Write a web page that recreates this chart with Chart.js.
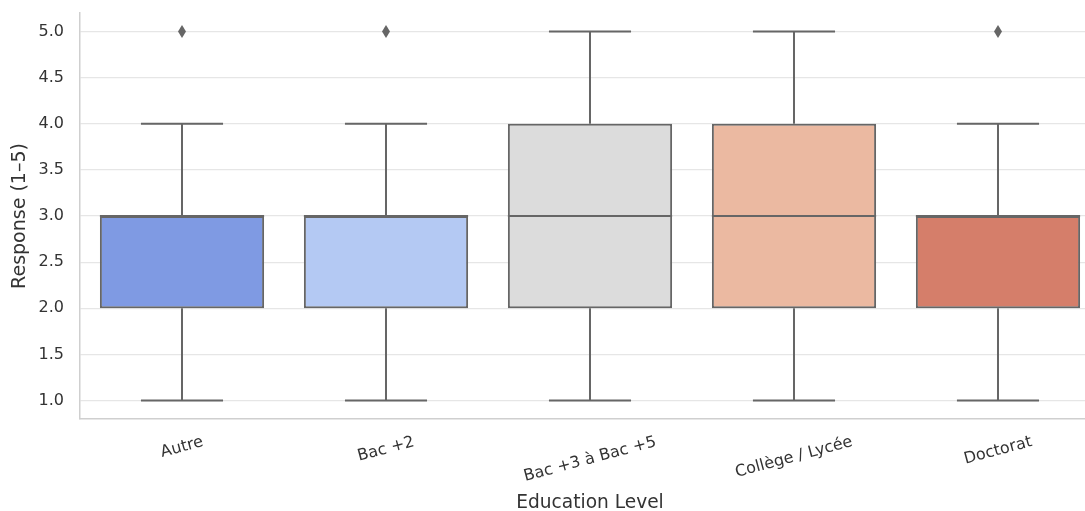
<!DOCTYPE html>
<html>
<head>
<meta charset="utf-8">
<script src="https://cdn.jsdelivr.net/npm/chart.js@4"></script>
<style>
  html, body { margin: 0; padding: 0; background: #fff; }
  #wrap { width: 1085px; height: 511px; position: relative; }
</style>
</head>
<body>
<div id="wrap"><canvas id="chart"></canvas></div>
<script>
// box statistics per education level
const categories = ['Autre', 'Bac +2', 'Bac +3 à Bac +5', 'Collège / Lycée', 'Doctorat'];
const whiskerLow = [1, 1, 1, 1, 1];
const q1 = [2, 2, 2, 2, 2];
const median = [3, 3, 3, 3, 3];
const q3 = [3, 3, 4, 4, 3];
const whiskerHigh = [4, 4, 5, 5, 4];
const outliers = [[5], [5], [], [], [5]];
const yTicks = [1.0, 1.5, 2.0, 2.5, 3.0, 3.5, 4.0, 4.5, 5.0];
const xTitle = 'Education Level';
const yTitle = 'Response (1–5)';

const boxColors = ['#7f9ae3', '#b4c9f3', '#dcdcdc', '#ebb9a1', '#d57e6a'];
const lineColor = '#666666';
const textColor = '#333333';
const font = 'DejaVu Sans';

// thin diamond like matplotlib's 'd' marker
function diamondMarker() {
  const c = document.createElement('canvas');
  c.width = 8; c.height = 13;
  const g = c.getContext('2d');
  g.fillStyle = lineColor;
  g.beginPath();
  g.moveTo(4, 0); g.lineTo(8, 6.5); g.lineTo(4, 13); g.lineTo(0, 6.5);
  g.closePath();
  g.fill();
  return c;
}

const outlierPoints = [];
outliers.forEach((vals, i) => vals.forEach(v => outlierPoints.push({ x: i, y: v })));

const whiskerPlugin = {
  id: 'whiskers',
  afterDatasetsDraw(chart) {
    const { ctx, scales: { y } } = chart;
    const meta = chart.getDatasetMeta(0);
    ctx.save();
    ctx.strokeStyle = lineColor;
    ctx.lineWidth = 2;
    meta.data.forEach((bar, i) => {
      const { x, width } = bar.getProps(['x', 'width'], true);
      const half = width / 2;
      const yLo = y.getPixelForValue(whiskerLow[i]);
      const yQ1 = y.getPixelForValue(q1[i]);
      const yQ3 = y.getPixelForValue(q3[i]);
      const yHi = y.getPixelForValue(whiskerHigh[i]);
      const yMed = y.getPixelForValue(median[i]);
      ctx.beginPath();
      // whiskers
      ctx.moveTo(x, yQ1); ctx.lineTo(x, yLo);
      ctx.moveTo(x, yQ3); ctx.lineTo(x, yHi);
      // caps
      ctx.moveTo(x - half / 2, yLo); ctx.lineTo(x + half / 2, yLo);
      ctx.moveTo(x - half / 2, yHi); ctx.lineTo(x + half / 2, yHi);
      // median
      ctx.moveTo(x - half, yMed); ctx.lineTo(x + half, yMed);
      ctx.stroke();
    });
    ctx.restore();
  }
};

// rotated category labels, centred under each box as matplotlib does,
// and the x title centred on the middle category (the axes centre)
const xLabelPlugin = {
  id: 'xLabels',
  afterDraw(chart) {
    const { ctx, chartArea, scales: { x } } = chart;
    const angle = 15 * Math.PI / 180;
    ctx.save();
    ctx.font = '16px "' + font + '"';
    ctx.fillStyle = textColor;
    ctx.textAlign = 'center';
    ctx.textBaseline = 'middle';
    categories.forEach((label, i) => {
      const w = ctx.measureText(label).width;
      const h = 16;
      const boxH = w * Math.sin(angle) + h * Math.cos(angle);
      const cx = x.getPixelForValue(i);
      const cy = chartArea.bottom + 15 + boxH / 2;
      ctx.save();
      ctx.translate(cx, cy);
      ctx.rotate(-angle);
      ctx.fillText(label, 0, 0);
      ctx.restore();
    });
    ctx.font = '18.6px "' + font + '"';
    ctx.textBaseline = 'alphabetic';
    ctx.fillText(xTitle, x.getPixelForValue((categories.length - 1) / 2), chartArea.bottom + 89);
    ctx.restore();
  }
};

new Chart(document.getElementById('chart'), {
  type: 'bar',
  data: {
    datasets: [{
      type: 'bar',
      data: categories.map((c, i) => ({ x: i, y: [q1[i], q3[i]] })),
      backgroundColor: boxColors,
      borderColor: lineColor,
      borderWidth: 2,
      borderSkipped: false,
      barPercentage: 1,
      categoryPercentage: 0.805,
      order: 2
    }, {
      type: 'scatter',
      data: outlierPoints,
      pointStyle: diamondMarker(),
      pointRadius: 5,
      order: 1
    }]
  },
  options: {
    responsive: true,
    maintainAspectRatio: false,
    animation: false,
    layout: { autoPadding: false, padding: { top: 13, right: 0, bottom: 0, left: 0 } },
    plugins: {
      legend: { display: false },
      tooltip: { enabled: false }
    },
    scales: {
      x: {
        type: 'linear',
        offset: false,
        min: -0.5,
        max: 4.4265,
        afterBuildTicks(scale) { scale.ticks = categories.map((c, i) => ({ value: i })); },
        grid: { display: false },
        ticks: { display: false },
        border: { display: true, color: '#cfcfcf', width: 1.5 },
        afterFit(scale) {
          scale.height = 92;
          scale.paddingLeft = 0;
          scale.paddingRight = 0;
        }
      },
      y: {
        min: 0.8,
        max: 5.2,
        afterBuildTicks(scale) { scale.ticks = yTicks.map(v => ({ value: v })); },
        grid: { color: '#e6e6e6', lineWidth: 1.2, drawTicks: false },
        border: { display: true, color: '#cfcfcf', width: 1.5 },
        ticks: {
          padding: 16,
          color: textColor,
          font: { family: font, size: 16 },
          callback: v => v.toFixed(1)
        },
        title: {
          display: true,
          text: yTitle,
          color: textColor,
          font: { family: font, size: 19 },
          padding: { top: 9, bottom: 0 }
        },
        afterFit(scale) {
          scale.width = 80;
          scale.paddingTop = 0;
          scale.paddingBottom = 0;
        }
      }
    }
  },
  plugins: [whiskerPlugin, xLabelPlugin]
});
</script>
</body>
</html>
